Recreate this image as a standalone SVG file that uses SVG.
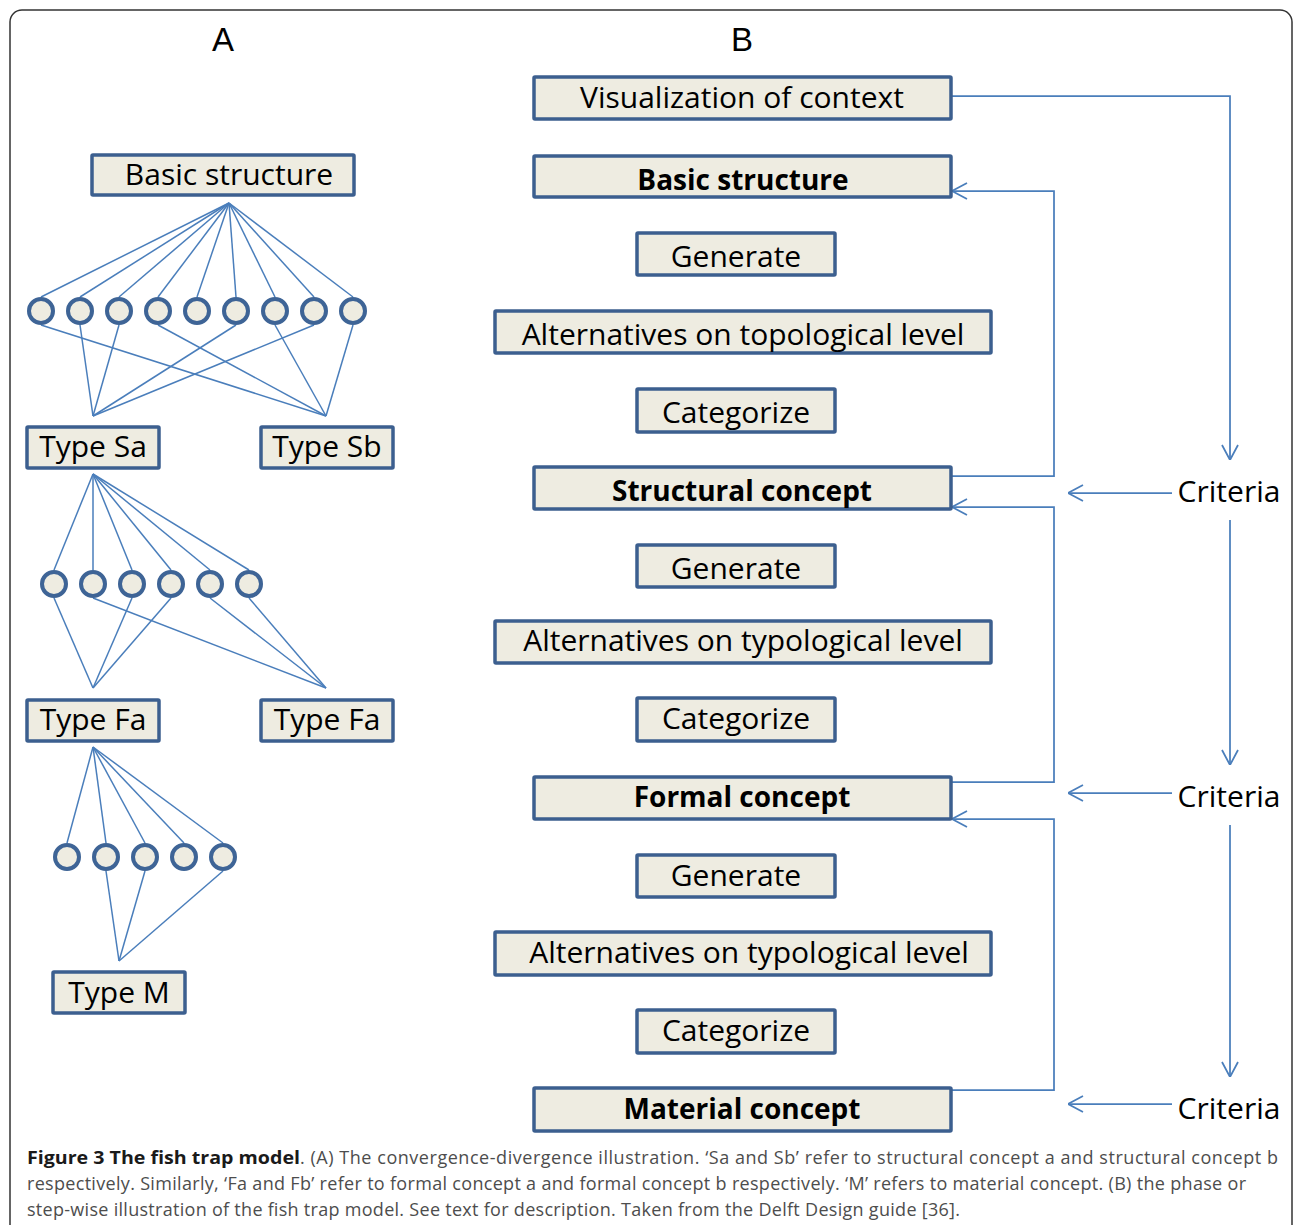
<svg xmlns="http://www.w3.org/2000/svg" width="1295" height="1225" viewBox="0 0 1295 1225">
<defs>
<style>
.box{fill:#eeece1;stroke:#3c5f8f;stroke-width:3.5}
.t{font-family:"Open Sans","Liberation Sans",sans-serif;font-size:30px;fill:#000;text-anchor:middle}
.b{font-family:"Open Sans","Liberation Sans",sans-serif;font-size:28px;font-weight:bold;fill:#000;text-anchor:middle}
.hd{font-family:"Liberation Sans",Arial,sans-serif;font-size:33px;fill:#000;text-anchor:middle}
.node{fill:#eeece1;stroke:#3e6496;stroke-width:4}
.ln{stroke:#4a7ebb;stroke-width:1.5;fill:none}
.cn{stroke:#4a7ebb;stroke-width:1.75;fill:none}
.cap{font-family:"Open Sans","Liberation Sans",sans-serif;font-size:18px;fill:#4d4d4d}
.capb{font-family:"Open Sans","Liberation Sans",sans-serif;font-size:18px;font-weight:bold;fill:#1a1a1a}
</style>
<marker id="arr" viewBox="0 0 16 18" refX="16" refY="9" markerWidth="16" markerHeight="18" markerUnits="userSpaceOnUse" orient="auto">
<path d="M1,1 L16,9 L1,17" fill="none" stroke="#4a7ebb" stroke-width="1.75"/>
</marker>
</defs>
<rect width="1295" height="1225" fill="#fff"/>
<rect x="10" y="10" width="1282" height="1250" rx="12" fill="none" stroke="#333" stroke-width="1.5"/>
<text class="hd" x="223" y="51">A</text>
<text class="hd" x="742" y="51">B</text>

<g id="connectors">
<g class="ln">
<line x1="229" y1="203" x2="41" y2="297"/>
<line x1="229" y1="203" x2="80" y2="297"/>
<line x1="229" y1="203" x2="119" y2="297"/>
<line x1="229" y1="203" x2="158" y2="297"/>
<line x1="229" y1="203" x2="197" y2="297"/>
<line x1="229" y1="203" x2="236" y2="297"/>
<line x1="229" y1="203" x2="275" y2="297"/>
<line x1="229" y1="203" x2="314" y2="297"/>
<line x1="229" y1="203" x2="353" y2="297"/>
<line x1="80" y1="325" x2="93" y2="416"/>
<line x1="119" y1="325" x2="93" y2="416"/>
<line x1="236" y1="325" x2="93" y2="416"/>
<line x1="314" y1="325" x2="93" y2="416"/>
<line x1="41" y1="325" x2="326" y2="416"/>
<line x1="158" y1="325" x2="326" y2="416"/>
<line x1="275" y1="325" x2="326" y2="416"/>
<line x1="353" y1="325" x2="326" y2="416"/>
<line x1="93" y1="474" x2="54" y2="570"/>
<line x1="93" y1="474" x2="93" y2="570"/>
<line x1="93" y1="474" x2="132" y2="570"/>
<line x1="93" y1="474" x2="171" y2="570"/>
<line x1="93" y1="474" x2="210" y2="570"/>
<line x1="93" y1="474" x2="249" y2="570"/>
<line x1="54" y1="598" x2="93" y2="688"/>
<line x1="132" y1="598" x2="93" y2="688"/>
<line x1="171" y1="598" x2="93" y2="688"/>
<line x1="93" y1="598" x2="326" y2="688"/>
<line x1="210" y1="598" x2="326" y2="688"/>
<line x1="249" y1="598" x2="326" y2="688"/>
<line x1="93" y1="747" x2="67" y2="843"/>
<line x1="93" y1="747" x2="106" y2="843"/>
<line x1="93" y1="747" x2="145" y2="843"/>
<line x1="93" y1="747" x2="184" y2="843"/>
<line x1="93" y1="747" x2="223" y2="843"/>
<line x1="106" y1="871" x2="119" y2="961"/>
<line x1="145" y1="871" x2="119" y2="961"/>
<line x1="223" y1="871" x2="119" y2="961"/>
</g>
<g class="cn">
<polyline points="951,96 1230,96 1230,460" marker-end="url(#arr)"/>
<line x1="1230" y1="520" x2="1230" y2="765" marker-end="url(#arr)"/>
<line x1="1230" y1="825" x2="1230" y2="1077" marker-end="url(#arr)"/>
<line x1="1172" y1="493" x2="1068" y2="493" marker-end="url(#arr)"/>
<line x1="1172" y1="793" x2="1068" y2="793" marker-end="url(#arr)"/>
<line x1="1172" y1="1104" x2="1068" y2="1104" marker-end="url(#arr)"/>
<polyline points="951,476 1054,476 1054,191 952,191" marker-end="url(#arr)"/>
<polyline points="951,782 1054,782 1054,507 952,507" marker-end="url(#arr)"/>
<polyline points="951,1090 1054,1090 1054,819 952,819" marker-end="url(#arr)"/>
</g>
</g>

<g id="a-basic"><rect class="box" x="92" y="155" width="262" height="40" rx="1"/><text class="t" x="229" y="185">Basic structure</text></g>
<g id="a-circles1">
<circle class="node" cx="41" cy="311" r="12"/><circle class="node" cx="80" cy="311" r="12"/><circle class="node" cx="119" cy="311" r="12"/>
<circle class="node" cx="158" cy="311" r="12"/><circle class="node" cx="197" cy="311" r="12"/><circle class="node" cx="236" cy="311" r="12"/>
<circle class="node" cx="275" cy="311" r="12"/><circle class="node" cx="314" cy="311" r="12"/><circle class="node" cx="353" cy="311" r="12"/>
</g>
<g id="a-sa"><rect class="box" x="27" y="427" width="132" height="41" rx="1"/><text class="t" x="93" y="457">Type Sa</text></g>
<g id="a-sb"><rect class="box" x="261" y="427" width="132" height="41" rx="1"/><text class="t" x="327" y="457">Type Sb</text></g>
<g id="a-circles2">
<circle class="node" cx="54" cy="584" r="12"/><circle class="node" cx="93" cy="584" r="12"/><circle class="node" cx="132" cy="584" r="12"/>
<circle class="node" cx="171" cy="584" r="12"/><circle class="node" cx="210" cy="584" r="12"/><circle class="node" cx="249" cy="584" r="12"/>
</g>
<g id="a-fa1"><rect class="box" x="27" y="700" width="132" height="41" rx="1"/><text class="t" x="93" y="730">Type Fa</text></g>
<g id="a-fa2"><rect class="box" x="261" y="700" width="132" height="41" rx="1"/><text class="t" x="327" y="730">Type Fa</text></g>
<g id="a-circles3">
<circle class="node" cx="67" cy="857" r="12"/><circle class="node" cx="106" cy="857" r="12"/><circle class="node" cx="145" cy="857" r="12"/>
<circle class="node" cx="184" cy="857" r="12"/><circle class="node" cx="223" cy="857" r="12"/>
</g>
<g id="a-m"><rect class="box" x="53" y="972" width="132" height="41" rx="1"/><text class="t" x="119" y="1003">Type M</text></g>

<g id="b-vis"><rect class="box" x="534" y="77" width="417" height="42" rx="1"/><text class="t" x="742" y="108">Visualization of context</text></g>
<g id="b-basic"><rect class="box" x="534" y="156" width="417" height="41" rx="1"/><text class="b" x="743" y="190">Basic structure</text></g>
<g id="b-gen1"><rect class="box" x="637" y="233" width="198" height="42" rx="1"/><text class="t" x="736" y="267">Generate</text></g>
<g id="b-alt1"><rect class="box" x="495" y="311" width="496" height="42" rx="1"/><text class="t" x="743" y="345">Alternatives on topological level</text></g>
<g id="b-cat1"><rect class="box" x="637" y="389" width="198" height="43" rx="1"/><text class="t" x="736" y="423">Categorize</text></g>
<g id="b-struct"><rect class="box" x="534" y="467" width="417" height="42" rx="1"/><text class="b" x="742" y="501">Structural concept</text></g>
<g id="b-gen2"><rect class="box" x="637" y="545" width="198" height="42" rx="1"/><text class="t" x="736" y="579">Generate</text></g>
<g id="b-alt2"><rect class="box" x="495" y="621" width="496" height="42" rx="1"/><text class="t" x="743" y="651">Alternatives on typological level</text></g>
<g id="b-cat2"><rect class="box" x="637" y="698" width="198" height="43" rx="1"/><text class="t" x="736" y="729">Categorize</text></g>
<g id="b-formal"><rect class="box" x="534" y="777" width="417" height="42" rx="1"/><text class="b" x="742" y="807">Formal concept</text></g>
<g id="b-gen3"><rect class="box" x="637" y="855" width="198" height="42" rx="1"/><text class="t" x="736" y="886">Generate</text></g>
<g id="b-alt3"><rect class="box" x="495" y="932" width="496" height="43" rx="1"/><text class="t" x="749" y="963">Alternatives on typological level</text></g>
<g id="b-cat3"><rect class="box" x="637" y="1010" width="198" height="43" rx="1"/><text class="t" x="736" y="1041">Categorize</text></g>
<g id="b-material"><rect class="box" x="534" y="1088" width="417" height="43" rx="1"/><text class="b" x="742" y="1119">Material concept</text></g>

<g id="criteria1"><text class="t" x="1229" y="502">Criteria</text></g>
<g id="criteria2"><text class="t" x="1229" y="807">Criteria</text></g>
<g id="criteria3"><text class="t" x="1229" y="1119">Criteria</text></g>

<g id="caption">
<text class="capb" x="27" y="1164" textLength="273" lengthAdjust="spacingAndGlyphs">Figure 3 The fish trap model</text>
<text class="cap" x="300" y="1164" textLength="978" lengthAdjust="spacing">. (A) The convergence-divergence illustration. ‘Sa and Sb’ refer to structural concept a and structural concept b</text>
<text class="cap" x="27" y="1190" textLength="1219" lengthAdjust="spacing">respectively. Similarly, ‘Fa and Fb’ refer to formal concept a and formal concept b respectively. ‘M’ refers to material concept. (B) the phase or</text>
<text class="cap" x="27" y="1216" textLength="933" lengthAdjust="spacing">step-wise illustration of the fish trap model. See text for description. Taken from the Delft Design guide [36].</text>
</g>
</svg>
